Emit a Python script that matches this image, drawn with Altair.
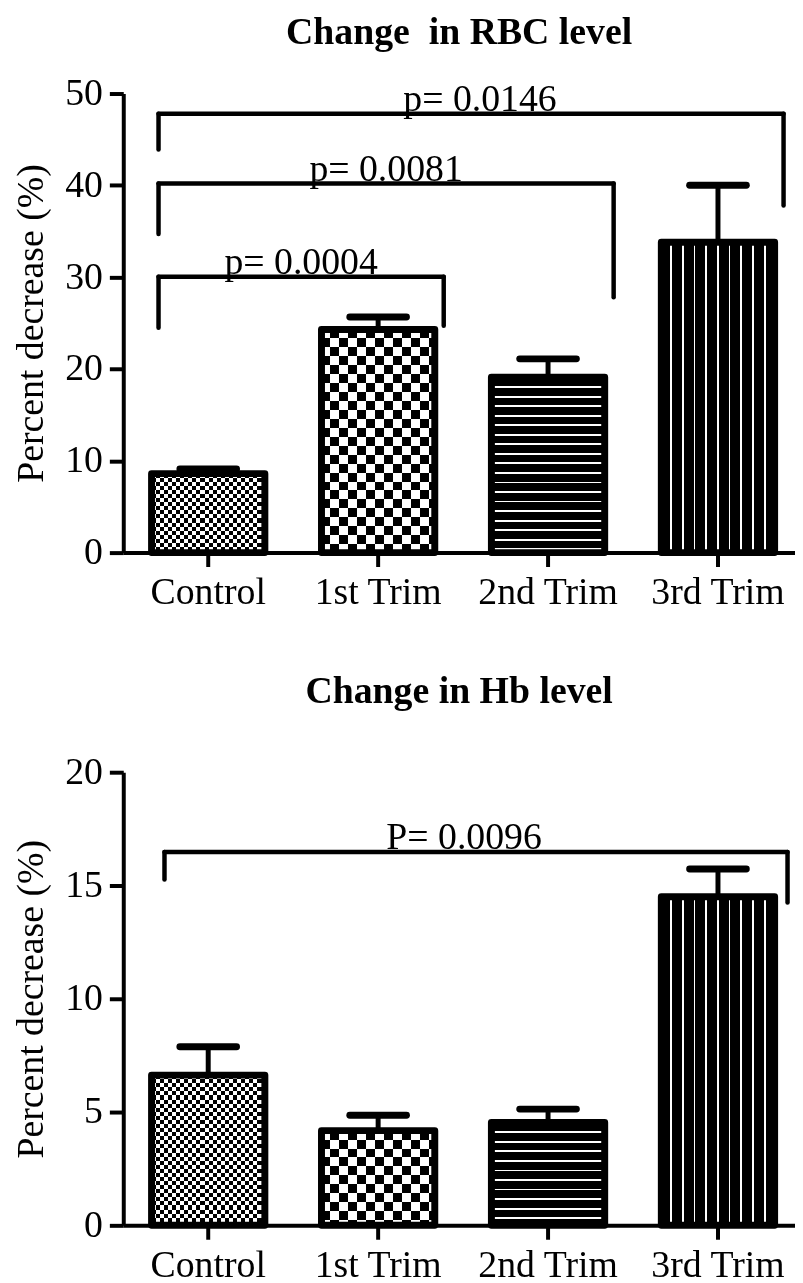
import altair as alt
import pandas as pd

# ---------------- data ----------------
categories = ["Control", "1st Trim", "2nd Trim", "3rd Trim"]

rbc_mean = [8.6, 24.3, 19.1, 33.8]
rbc_sem = [0.5, 1.35, 2.0, 6.2]

hb_mean = [6.63, 4.18, 4.54, 14.5]
hb_sem = [1.25, 0.68, 0.59, 1.23]

rbc_from = ["Control", "Control", "Control"]
rbc_to = ["1st Trim", "2nd Trim", "3rd Trim"]
rbc_level = [30.05, 40.2, 47.8]
rbc_left_end = [24.5, 34.7, 43.9]
rbc_right_end = [24.7, 27.8, 37.8]
rbc_label = ["p= 0.0004", "p= 0.0081", "p= 0.0146"]

hb_from = ["Control"]
hb_to = ["3rd Trim"]
hb_level = [16.48]
hb_left_end = [15.26]
hb_right_end = [14.25]
hb_label = ["P= 0.0096"]

# ---------------- layout / style ----------------
FONT = "Liberation Serif"
PLOT_W = 676
STEP = 171.0
BAR_W = 114
STROKE = 7
X_SCALE = alt.Scale(domain=categories, paddingInner=0.3, paddingOuter=0.1266, align=0.592)


def stripe_stops(total, bands, on, off):
    stops = [{"offset": 0, "color": off}]
    for a, b in bands:
        a = max(0.0, min(total, a))
        b = max(0.0, min(total, b))
        if b <= a:
            continue
        fa, fb = round(a / total, 5), round(b / total, 5)
        stops += [{"offset": fa, "color": off}, {"offset": fa, "color": on},
                  {"offset": fb, "color": on}, {"offset": fb, "color": off}]
    stops.append({"offset": 1, "color": off})
    return stops


def grad_x(stops):
    return {"gradient": "linear", "x1": 0, "y1": 0, "x2": 1, "y2": 0, "stops": stops}


def grad_y(stops):
    return {"gradient": "linear", "x1": 0, "y1": 0, "x2": 0, "y2": 1, "stops": stops}


def checker_bands(total, cell):
    bands = []
    k = 0
    while 2 * k * cell < total:
        bands.append((2 * k * cell, (2 * k + 1) * cell))
        k += 1
    return bands


def panel(means, sems, ymax, height, ticks, br_from, br_to, br_level, br_lend, br_rend,
          br_label, left_off, right_off, label_nudge, title, title_offset):
    ppu = height / ymax
    df = pd.DataFrame({"cat": categories, "mean": means, "sem": sems})
    df["top"] = df["mean"] + df["sem"]

    yaxis = alt.Axis(values=ticks, grid=False, domainWidth=4, domainColor="black",
                     tickWidth=4, tickSize=14, tickColor="black",
                     labelFont=FONT, labelFontSize=38, labelColor="black", labelPadding=7,
                     title="Percent decrease (%)", titleFont=FONT, titleFontSize=38,
                     titleFontWeight="normal", titleColor="black", titlePadding=14)
    xaxis = alt.Axis(labelAngle=0, grid=False, domainWidth=4, domainColor="black",
                     tickWidth=4, tickSize=14, tickColor="black",
                     labelFont=FONT, labelFontSize=38, labelColor="black", labelPadding=7,
                     title=None)
    yscale = alt.Scale(domain=[0, ymax], nice=False, zero=True)

    def X(field="cat"):
        return alt.X(f"{field}:N", scale=X_SCALE, axis=xaxis, sort=categories)

    def Y(field):
        return alt.Y(f"{field}:Q", scale=yscale, axis=yaxis)

    base = alt.Chart(df)
    layers = []

    for name, mean in zip(categories, means):
        h = mean * ppu
        sel = base.transform_filter(alt.datum.cat == name)
        if name in ("Control", "1st Trim"):
            cell = 4.1 if name == "Control" else 9.0
            a = grad_x(stripe_stops(BAR_W, checker_bands(BAR_W, cell), "black", "white"))
            b = grad_y(stripe_stops(h, checker_bands(h, cell), "white", "black"))
            layers.append(sel.mark_bar(width=BAR_W, fill=a).encode(x=X(), y=Y("mean")))
            layers.append(sel.mark_bar(width=BAR_W, fill=b, blend="difference")
                          .encode(x=X(), y=Y("mean")))
        elif name == "2nd Trim":
            bands = []
            k = 0
            while 9.0 + k * 9.6 < h - 4:
                bands.append((9.0 + k * 9.6, 9.0 + k * 9.6 + 1.8))
                k += 1
            g = grad_y(stripe_stops(h, bands, "white", "black"))
            layers.append(sel.mark_bar(width=BAR_W, fill=g).encode(x=X(), y=Y("mean")))
        else:
            centers = [BAR_W / 2 + k * 11.75 for k in range(-4, 5)]
            bands = [(c - 0.85, c + 0.85) for c in centers]
            g = grad_x(stripe_stops(BAR_W, bands, "white", "black"))
            layers.append(sel.mark_bar(width=BAR_W, fill=g).encode(x=X(), y=Y("mean")))

    # outlines
    layers.append(base.mark_bar(width=BAR_W, fill="white", fillOpacity=0, stroke="black",
                                strokeWidth=STROKE, strokeJoin="round")
                  .encode(x=X(), y=Y("mean")))
    # error bars (upper only)
    layers.append(base.mark_rule(color="black", strokeWidth=5)
                  .encode(x=X(), y=Y("mean"), y2="top:Q"))
    layers.append(base.mark_rule(color="black", strokeWidth=7, strokeCap="round",
                                 xOffset=-28.5, x2Offset=28.5)
                  .encode(x=X(), x2="cat:N", y=Y("top")))

    # significance brackets
    bdf = pd.DataFrame({"from": br_from, "to": br_to, "level": br_level,
                        "lend": br_lend, "rend": br_rend, "label": br_label})
    bb = alt.Chart(bdf)
    layers.append(bb.mark_rule(color="black", strokeWidth=4.5, strokeCap="round",
                               xOffset=left_off, x2Offset=right_off)
                  .encode(x=X("from"), x2="to:N", y=Y("level")))
    layers.append(bb.mark_rule(color="black", strokeWidth=4.5, strokeCap="round",
                               xOffset=left_off)
                  .encode(x=X("from"), y=Y("level"), y2="lend:Q"))
    layers.append(bb.mark_rule(color="black", strokeWidth=4.5, strokeCap="round",
                               xOffset=right_off)
                  .encode(x=X("to"), y=Y("level"), y2="rend:Q"))
    for i, (f, t, lab) in enumerate(zip(br_from, br_to, br_label)):
        span = (categories.index(t) - categories.index(f)) * STEP
        dx = span / 2 + (left_off + right_off) / 2 + label_nudge[i]
        layers.append(bb.transform_filter(alt.datum.label == lab)
                      .mark_text(font=FONT, fontSize=38, color="black", align="center",
                                 baseline="alphabetic", dy=-2.5, xOffset=dx)
                      .encode(x=X("from"), y=Y("level"), text="label:N"))

    return alt.layer(*layers).properties(
        width=PLOT_W, height=height,
        title=alt.TitleParams(title, font=FONT, fontSize=38, fontWeight="bold",
                              color="black", anchor="middle", frame="group",
                              offset=title_offset))


top = panel(rbc_mean, rbc_sem, 50, 462, [0, 10, 20, 30, 40, 50],
            rbc_from, rbc_to, rbc_level, rbc_left_end, rbc_right_end, rbc_label,
            -50, 66, [0, 0, 9], "Change\u00a0 in RBC level", 23)
bottom = panel(hb_mean, hb_sem, 20, 456, [0, 5, 10, 15, 20],
               hb_from, hb_to, hb_level, hb_left_end, hb_right_end, hb_label,
               -44, 70, [-12], "Change in Hb level", 43)

chart = alt.vconcat(top, bottom, spacing=62).properties(
    padding={"left": 5, "top": 2, "right": 0, "bottom": 0},
    background="white",
).configure_view(stroke=None)

chart.save("out.html", embed_options={"renderer": "svg", "actions": False})
